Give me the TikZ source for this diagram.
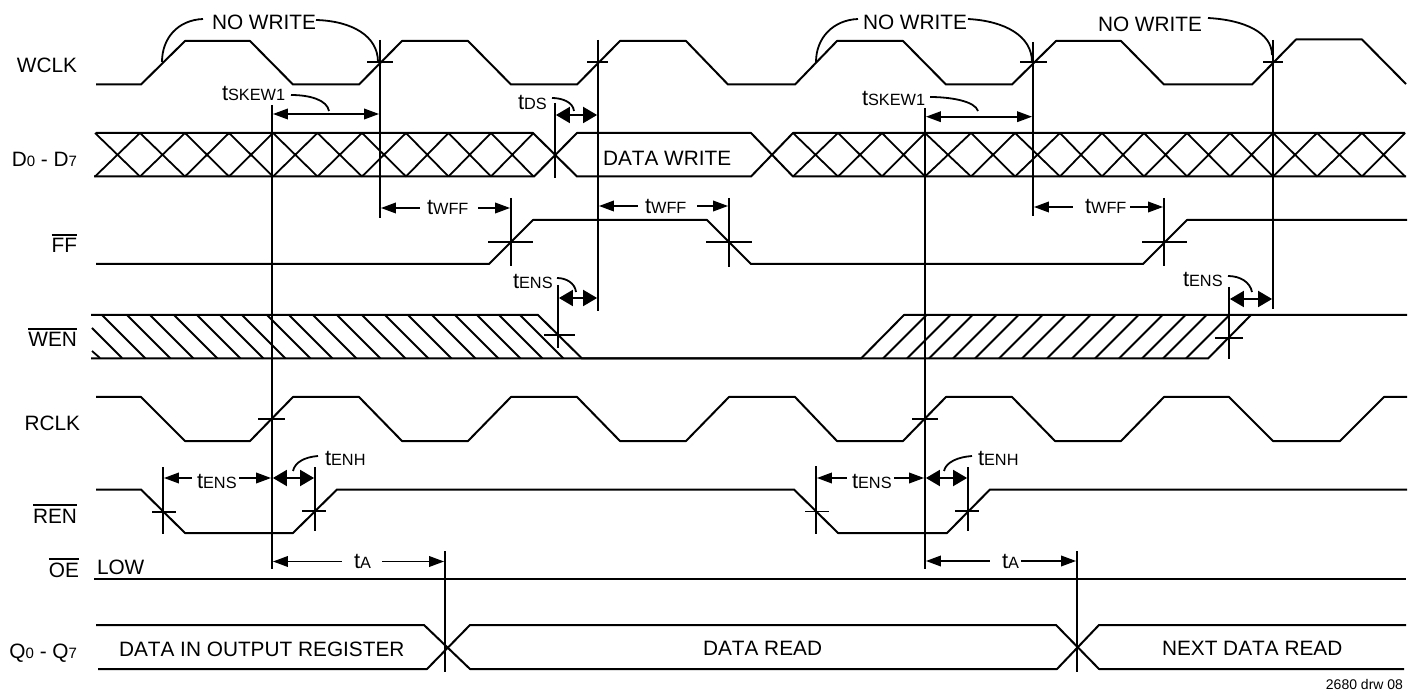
\documentclass[tikz,border=0pt]{standalone}
\usepackage{fontspec}
\setmainfont[Kerning=Off]{Liberation Sans}
\usetikzlibrary{arrows.meta}
\newcommand\tsub[1]{{\fontsize{22}{22}\selectfont t}{\fontsize{16.3}{16.3}\selectfont #1}}
\newcommand\dsub[1]{{\fontsize{15}{15}\selectfont #1}}
\newcommand\ovbar[1]{\sbox0{#1}\rlap{\rule[17.4pt]{\wd0}{1.7pt}}\usebox0}
\tikzset{
  sig/.style={line width=2pt,line join=round,line cap=butt},
  guide/.style={line width=2.1pt},
  tick/.style={line width=1.8pt},
  hatchline/.style={line width=1.8pt},
  lead/.style={line width=1.8pt},
  dimone/.style={line width=1.9pt,{Triangle[length=15pt,width=10.5pt]}-},
  dimtwo/.style={line width=1.9pt,-{Triangle[length=15pt,width=10.5pt]}},
  dimboth/.style={line width=1.9pt,{Triangle[length=15pt,width=10.5pt]}-{Triangle[length=15pt,width=10.5pt]}},
  dimfat/.style={line width=1.9pt,{Triangle[length=14pt,width=16pt]}-{Triangle[length=14pt,width=16pt]}},
  txt/.style={inner sep=0pt,outer sep=0pt,font=\fontsize{20.8}{20.8}\selectfont,anchor=base west},
  sigl/.style={inner sep=0pt,outer sep=0pt,font=\fontsize{20.8}{20.8}\selectfont,anchor=base east},
  small/.style={inner sep=0pt,outer sep=0pt,font=\fontsize{14}{14}\selectfont,anchor=base east},
}
\begin{document}
\begin{tikzpicture}[x=1pt,y=-1pt]
\useasboundingbox (0,0) rectangle (1411,692);
% signal labels
\node[sigl] (lwclk) at (77,73) {WCLK};
\node[sigl] (ld) at (77,167) {D\dsub{0} - D\dsub{7}};
\node[sigl] (lff) at (77,253) {\ovbar{FF}};
\node[sigl] (lwen) at (77,347) {\ovbar{WEN}};
\node[sigl] (lrclk) at (80,430) {RCLK};
\node[sigl] (lren) at (77,523) {\ovbar{REN}};
\node[sigl] (loe) at (79,577) {\ovbar{OE}};
\node[sigl] (lq) at (77,658) {Q\dsub{0} - Q\dsub{7}};
\node[txt] (llow) at (97,574) {LOW};
% WCLK
\draw[sig] (96,84.5)--(141,84.5)--(185,41)--(250,41)--(293,84.5)--(359,84.5)--(402,41)--(468,41)--(511,84.5)--(577,84.5)--(620,41)--(686,41)--(728,84.5)--(795,84.5)--(837,41)--(903,41)--(946,84.5)--(1012,84.5)--(1056,41)--(1121,41)--(1164,84.5)--(1252,84.5)--(1296,39.5)--(1362,39.5)--(1406,84);
% D bus
\draw[sig] (96,133)--(533,133)--(577,176.5)--(751,176.5)--(793,133)--(1405,133);
\draw[sig] (94,176.5)--(534,176.5)--(577,133)--(751,133)--(793,176.5)--(1406,176.5);
\foreach \a/\b in {95/140,140/185,185/229,229/273,273/317.5,317.5/362,362/406,406/448.5,448.5/491,491/533.5,
  793/838,838/882,882/925,925/971,971/1015,1015/1060,1060/1102,1102/1144,1144/1187,1187/1230,1230/1273,1273/1317,1317/1362,1362/1405}
  \draw[hatchline] (\a,133)--(\b,176.5) (\a,176.5)--(\b,133);
\node[txt] (tdw) at (603,166) {DATA WRITE};
% FF
\draw[sig] (96,264)--(489,264)--(533,220)--(707,220)--(751,264)--(1143,264)--(1187,220)--(1407,220);
% WEN
\draw[sig] (91,315)--(538,315)--(582,358.5)--(861,358.5)--(904,315)--(1407,315);
\draw[sig] (91,358.5)--(1208,358.5)--(1251,315);
\foreach \a in {102,127,150,174,197,220,242,267,289,313,337,362,385,408,432,455,477,499,520}
  \draw[hatchline] (\a,315)--(\a+43.5,358.5);
\draw[hatchline] (92,328)--(122,358) (92,351)--(100,358);
\foreach \a in {883,907,929,953,975,999,1022,1047,1072,1095,1119,1142,1163,1186}
  \draw[hatchline] (\a,358.5)--(\a+43.5,315);
% RCLK
\draw[sig] (96,397)--(141,397)--(185,441)--(250,441)--(293,397)--(359,397)--(402,441)--(468,441)--(511,397)--(577,397)--(620,441)--(686,441)--(729,397)--(795,397)--(837,441)--(903,441)--(946,397)--(1012,397)--(1055,441)--(1121,441)--(1164,397)--(1229,397)--(1273,441)--(1340,441)--(1384,397)--(1407,397);
% REN
\draw[sig] (96,489.5)--(141,489.5)--(185,533)--(293,533)--(337,489.5)--(794,489.5)--(838,533)--(947,533)--(990,489.5)--(1407,489.5);
% OE
\draw[sig] (94,579)--(1406,579);
% Q bus
\draw[sig] (96,625)--(424,625)--(470,669)--(1057,669)--(1099,625)--(1406,625);
\draw[sig] (98,669)--(427,669)--(470,625)--(1056,625)--(1099,669)--(1404,669);
\node[txt] (tq1) at (119,656) {DATA IN OUTPUT REGISTER};
\node[txt] (tq2) at (703,655) {DATA READ};
\node[txt] (tq3) at (1162,655) {NEXT DATA READ};
\node[small] (drw) at (1403,689) {2680 drw 08};
% guides
\draw[guide] (272,105)--(272,569);
\draw[guide] (380,40)--(380,218);
\draw[guide] (598,40)--(598,311);
\draw[guide] (555,103)--(555,178);
\draw[guide] (925,108)--(925,569);
\draw[guide] (1033,42)--(1033,216);
\draw[guide] (1273,40)--(1273,309);
\draw[guide] (511,198)--(511,266);
\draw[guide] (729,198)--(729,267);
\draw[guide] (1164,198)--(1164,266);
\draw[guide] (558,285)--(558,348);
\draw[guide] (1229,287)--(1229,359);
\draw[guide] (163,467)--(163,534);
\draw[guide] (315,467)--(315,531);
\draw[guide] (816,466)--(816,534);
\draw[guide] (968,467)--(968,531);
\draw[guide] (445,551)--(445,672);
\draw[guide] (1077,551)--(1077,672);
% crossing ticks
\foreach \a/\b/\y in {367/393/62,587/608/62,1020/1047/62,1263/1283/62,488/533/242,706/752/242,1142/1187/242,544/575/335,1215/1243/338,258/285/419,912/938/419,152/176/512,302/326/511,805/829/511.5,955/979/511}
  \draw[tick] (\a,\y)--(\b,\y);
% NO WRITE
\node[txt] (nw1) at (212,30) {NO WRITE};
\node[txt] (nw2) at (863,30) {NO WRITE};
\node[txt] (nw3) at (1098,32) {NO WRITE};
\draw[lead] (203,19) .. controls (178,20) and (162,38) .. (162,62);
\draw[lead] (316,20) .. controls (352,21) and (378,36) .. (378,62);
\draw[lead] (858,19) .. controls (833,20) and (816,38) .. (816,62);
\draw[lead] (968,19) .. controls (1005,21) and (1032,36) .. (1032,62);
\draw[lead] (1208,18) .. controls (1245,20) and (1272,33) .. (1272,55);
% tSKEW1
\node[txt] (sk1) at (222,101) {\tsub{SKEW1}};
\node[txt] (sk2) at (862,106) {\tsub{SKEW1}};
\draw[lead] (291,95) .. controls (310,95) and (327,100) .. (329,111);
\draw[lead] (930,97) .. controls (950,97) and (975,101) .. (978,111);
\draw[dimboth] (272.9,114)--(379.1,114);
\draw[dimboth] (925.9,116.7)--(1032.1,116.7);
% tDS
\node[txt] (ds) at (518,110) {\tsub{DS}};
\draw[lead] (552,98) .. controls (562,98) and (573,102) .. (574,111);
\draw[dimfat] (555.9,115)--(597.1,115);
% tWFF
\node[txt] (wf1) at (427,215) {\tsub{WFF}};
\node[txt] (wf2) at (645,214) {\tsub{WFF}};
\node[txt] (wf3) at (1085,214) {\tsub{WFF}};
\draw[dimone] (380.9,208)--(420,208);
\draw[dimtwo] (478,208)--(510.1,208);
\draw[dimone] (598.9,206)--(638,206);
\draw[dimtwo] (697,206)--(728.1,206);
\draw[dimone] (1033.9,207)--(1073,207);
\draw[dimtwo] (1130,207)--(1163.1,207);
% tENS upper
\node[txt] (en1) at (513,289) {\tsub{ENS}};
\node[txt] (en2) at (1183,287) {\tsub{ENS}};
\draw[lead] (557,278) .. controls (566,278) and (575,283) .. (576,292);
\draw[lead] (1228,276) .. controls (1240,276) and (1250,282) .. (1252,292);
\draw[dimfat] (558.9,298)--(597.1,298);
\draw[dimfat] (1229.9,299)--(1272.1,299);
% tENS lower, tENH
\node[txt] (en3) at (197,488) {\tsub{ENS}};
\node[txt] (en4) at (852,488) {\tsub{ENS}};
\draw[dimone] (163.9,478)--(192,478);
\draw[dimtwo] (239,478)--(271.1,478);
\draw[dimone] (816.9,478)--(847,478);
\draw[dimtwo] (894,478)--(924.1,478);
\node[txt] (eh1) at (325,465) {\tsub{ENH}};
\node[txt] (eh2) at (978,465) {\tsub{ENH}};
\draw[lead] (318,456) .. controls (305,457) and (295,462) .. (293,471);
\draw[lead] (972,456) .. controls (958,457) and (946,462) .. (944,471);
\draw[dimfat] (272.9,478)--(314.1,478);
\draw[dimfat] (925.9,478)--(967.1,478);
% tA
\node[txt] (ta1) at (354,568) {\tsub{A}};
\node[txt] (ta2) at (1002,568) {\tsub{A}};
\draw[dimone] (272.9,561.5)--(342,561.5);
\draw[dimtwo] (382,561.5)--(444.1,561.5);
\draw[dimone] (925.9,561)--(990,561);
\draw[dimtwo] (1021,561)--(1076.1,561);
\end{tikzpicture}
\end{document}
